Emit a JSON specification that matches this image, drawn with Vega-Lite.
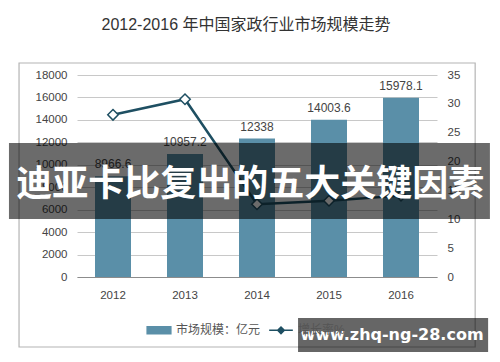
{
  "$schema": "https://vega.github.io/schema/vega-lite/v6.json",
  "width": 360,
  "height": 202,
  "autosize": {"type": "none"},
  "padding": {"left": 77, "top": 75, "right": 63, "bottom": 85},
  "background": "white",
  "config": {
    "view": {"stroke": null},
    "font": "Liberation Sans",
    "axis": {"labelOverlap": false},
    "legend": {
      "orient": "none",
      "legendX": 69,
      "legendY": 242,
      "direction": "horizontal",
      "labelFontSize": 12,
      "labelColor": "#555555",
      "labelFont": "Liberation Sans, Noto Sans CJK SC",
      "columnPadding": 5,
      "labelOffset": 4
    }
  },
  "title": {
    "text": "2012-2016 年中国家政行业市场规模走势",
    "font": "Liberation Sans, Noto Sans CJK SC",
    "fontSize": 16,
    "fontWeight": "normal",
    "color": "#333333",
    "anchor": "middle",
    "offset": 29,
    "dx": -11
  },
  "datasets": {
    "market": [
      {"year": "2012", "size": 8966.6, "growth": 28.1},
      {"year": "2013", "size": 10957.2, "growth": 30.8},
      {"year": "2014", "size": 12338, "growth": 12.6},
      {"year": "2015", "size": 14003.6, "growth": 13.2},
      {"year": "2016", "size": 15978.1, "growth": 14.1}
    ],
    "overlay": [
      {"banner": "迪亚卡比复出的五大关键因素", "site": "www.zhq-ng-28.com"}
    ]
  },
  "layer": [
    {
      "data": {"name": "market"},
      "encoding": {
        "x": {
          "field": "year", "type": "ordinal",
          "scale": {"paddingInner": 0.5, "paddingOuter": 0.25},
          "axis": {
            "title": null, "labelAngle": 0, "ticks": false, "domain": true,
            "domainColor": "#8c8c8c", "domainWidth": 1.2,
            "labelPadding": 12, "labelFontSize": 11.5, "labelColor": "#444444", "grid": false
          }
        },
        "y": {
          "field": "size", "type": "quantitative",
          "scale": {"domain": [0, 18000], "nice": false},
          "axis": {
            "title": null, "values": [0, 2000, 4000, 6000, 8000, 10000, 12000, 14000, 16000, 18000],
            "format": "d", "domain": false, "ticks": false, "grid": true,
            "gridColor": "#c8c8c8", "gridWidth": 1, "labelOverlap": false,
            "labelPadding": 10, "labelFontSize": 11.5, "labelColor": "#444444"
          }
        }
      },
      "layer": [
        {
          "mark": {"type": "bar", "color": "#5a8fa8"},
          "encoding": {
            "color": {"datum": "市场规模：亿元", "type": "nominal",
              "scale": {"domain": ["市场规模：亿元", "增长率%"], "range": ["#5a8fa8", "#1e4f62"]},
              "legend": {
                "title": null,
                "encode": {
                  "symbols": {
                    "update": {
                      "shape": {"signal": "datum.value === '增长率%' ? 'M-1,0H-0.28M0.28,0H1M-0.28,0L0,-0.28L0.28,0L0,0.28Z' : 'M-1,-0.3H1V0.3H-1Z'"},
                      "fill": {"signal": "datum.value === '增长率%' ? '#ffffff' : '#5a8fa8'"},
                      "stroke": {"signal": "datum.value === '增长率%' ? '#1e4f62' : '#5a8fa8'"},
                      "strokeWidth": {"value": 1.5},
                      "size": {"value": 560},
                      "opacity": {"value": 1}
                    }
                  }
                }
              }
            }
          }
        },
        {
          "mark": {"type": "text", "baseline": "bottom", "dy": -5, "fontSize": 12, "color": "#444444"},
          "encoding": {
            "text": {"field": "size", "type": "quantitative", "format": "~f"}
          }
        }
      ]
    },
    {
      "data": {"name": "market"},
      "encoding": {
        "x": {"field": "year", "type": "ordinal", "scale": {"paddingInner": 0.5, "paddingOuter": 0.25}, "axis": null},
        "y": {
          "field": "growth", "type": "quantitative",
          "scale": {"domain": [0, 35], "nice": false},
          "axis": {
            "orient": "right", "title": null, "values": [0, 5, 10, 15, 20, 25, 30, 35],
            "domain": false, "ticks": false, "grid": false, "labelOverlap": false,
            "labelPadding": 10, "labelFontSize": 11.5, "labelColor": "#444444"
          }
        },
        "color": {"datum": "增长率%", "type": "nominal"}
      },
      "layer": [
        {"mark": {"type": "line", "strokeWidth": 2.5}},
        {"mark": {"type": "point", "shape": "diamond", "filled": false, "fill": "#ffffff", "fillOpacity": 1, "opacity": 1, "size": 110, "strokeWidth": 1.5}}
      ]
    },
    {
      "data": {"name": "overlay"},
      "mark": {"type": "rect", "fill": null, "stroke": "#b4b4b4", "strokeWidth": 1.2, "clip": false},
      "encoding": {
        "x": {"datum": -0.161, "type": "quantitative", "scale": {"domain": [0, 1], "nice": false, "zero": false}, "axis": null},
        "x2": {"datum": 1.106},
        "y": {"datum": 19069, "type": "quantitative", "scale": {"domain": [0, 18000], "nice": false}, "axis": null},
        "y2": {"datum": -6238}
      }
    },
    {
      "data": {"name": "overlay"},
      "mark": {"type": "rect", "fill": "#000000", "fillOpacity": 0.58, "clip": false},
      "encoding": {
        "x": {"datum": -0.189, "type": "quantitative", "scale": {"domain": [0, 1], "nice": false, "zero": false}, "axis": null},
        "x2": {"datum": 1.147},
        "y": {"datum": 11941, "type": "quantitative", "scale": {"domain": [0, 18000], "nice": false}, "axis": null},
        "y2": {"datum": 5168}
      }
    },
    {
      "data": {"name": "overlay"},
      "mark": {"type": "text", "font": "Noto Sans CJK SC", "fontWeight": "bold", "fontSize": 36, "color": "#ffffff", "align": "center", "baseline": "middle", "clip": false},
      "encoding": {
        "x": {"datum": 0.481, "type": "quantitative", "scale": {"domain": [0, 1], "nice": false, "zero": false}, "axis": null},
        "y": {"datum": 8200, "type": "quantitative", "scale": {"domain": [0, 18000], "nice": false}, "axis": null},
        "text": {"field": "banner"}
      }
    },
    {
      "data": {"name": "overlay"},
      "mark": {"type": "rect", "fill": "#000000", "fillOpacity": 0.6, "clip": false},
      "encoding": {
        "x": {"datum": 0.614, "type": "quantitative", "scale": {"domain": [0, 1], "nice": false, "zero": false}, "axis": null},
        "x2": {"datum": 1.142},
        "y": {"datum": -3653, "type": "quantitative", "scale": {"domain": [0, 18000], "nice": false}, "axis": null},
        "y2": {"datum": -6683}
      }
    },
    {
      "data": {"name": "overlay"},
      "mark": {"type": "text", "font": "DejaVu Sans", "fontWeight": "bold", "fontSize": 16, "color": "#ffffff", "align": "center", "baseline": "middle", "clip": false},
      "encoding": {
        "x": {"datum": 0.875, "type": "quantitative", "scale": {"domain": [0, 1], "nice": false, "zero": false}, "axis": null},
        "y": {"datum": -5168, "type": "quantitative", "scale": {"domain": [0, 18000], "nice": false}, "axis": null},
        "text": {"field": "site"}
      }
    }
  ],
  "resolve": {"scale": {"x": "independent", "y": "independent"}}
}
